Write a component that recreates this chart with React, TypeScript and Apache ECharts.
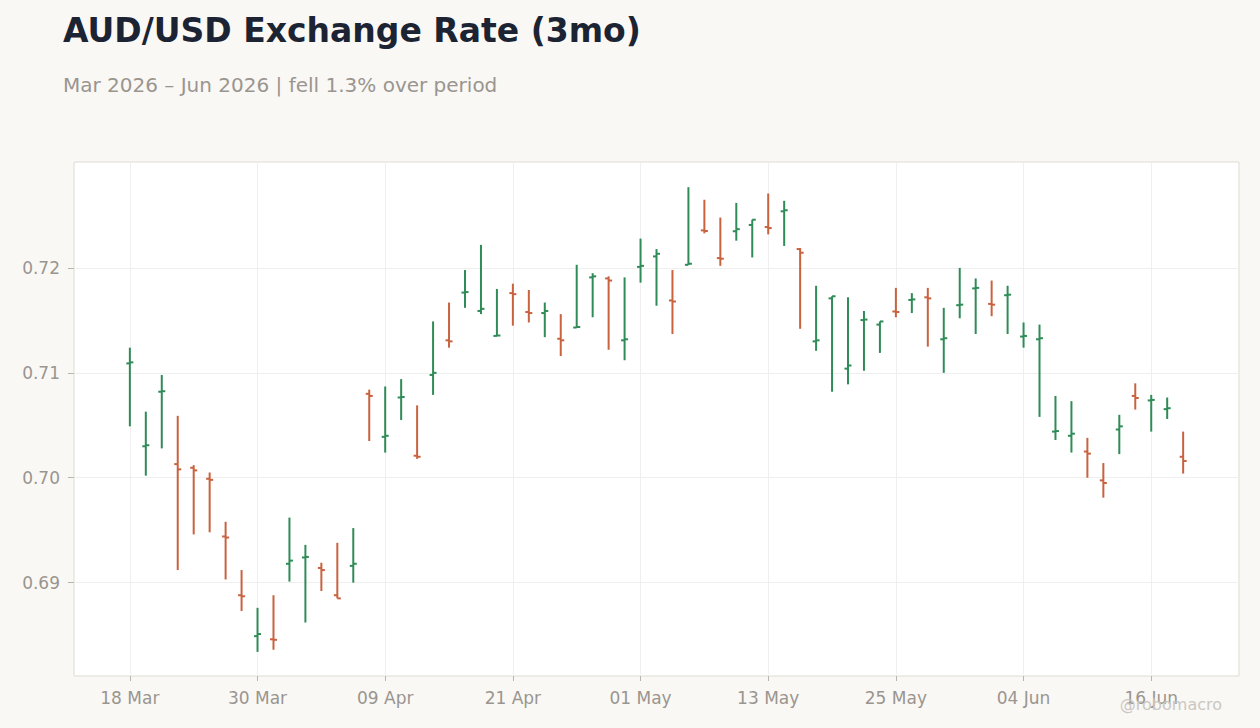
import * as echarts from 'echarts';
import React, { useEffect, useRef } from 'react';

// trading days shown on the category axis
const dates = [
  '18 Mar', '19 Mar', '20 Mar', '23 Mar', '24 Mar', '25 Mar', '26 Mar', '27 Mar', '30 Mar', '31 Mar',
  '01 Apr', '02 Apr', '03 Apr', '06 Apr', '07 Apr', '08 Apr', '09 Apr', '10 Apr', '13 Apr', '14 Apr',
  '15 Apr', '16 Apr', '17 Apr', '20 Apr', '21 Apr', '22 Apr', '23 Apr', '24 Apr', '27 Apr', '28 Apr',
  '29 Apr', '30 Apr', '01 May', '04 May', '05 May', '06 May', '07 May', '08 May', '11 May', '12 May',
  '13 May', '14 May', '15 May', '18 May', '19 May', '20 May', '21 May', '22 May', '25 May', '26 May',
  '27 May', '28 May', '29 May', '01 Jun', '02 Jun', '03 Jun', '04 Jun', '05 Jun', '08 Jun', '09 Jun',
  '10 Jun', '11 Jun', '12 Jun', '15 Jun', '16 Jun', '17 Jun', '18 Jun',
];

const opens = [
  0.7109, 0.7030, 0.7082, 0.7013, 0.70095, 0.6999, 0.6944, 0.6888, 0.6849, 0.6846,
  0.6918, 0.6924, 0.6914, 0.6888, 0.6916, 0.7080, 0.7039, 0.70765, 0.7021, 0.7098,
  0.7131, 0.71765, 0.7159, 0.71352, 0.7176, 0.7158, 0.7157, 0.71325, 0.71432, 0.7191,
  0.7190, 0.7131, 0.7201, 0.7211, 0.7169, 0.7203, 0.72358, 0.72094, 0.7235, 0.7241,
  0.7239, 0.7254, 0.7218, 0.7130, 0.7171, 0.7104, 0.71503, 0.7146, 0.71585, 0.71695,
  0.7172, 0.7132, 0.71645, 0.71805, 0.71657, 0.7174, 0.71346, 0.7132, 0.7044, 0.7040,
  0.7025, 0.69975, 0.7046, 0.7078, 0.70737, 0.70654, 0.7020,
];

const highs = [
  0.7124, 0.7063, 0.7098, 0.7059, 0.7012, 0.7005, 0.6958, 0.6912, 0.6876, 0.6888,
  0.6962, 0.6936, 0.6919, 0.6938, 0.6952, 0.7084, 0.7087, 0.7094, 0.7069, 0.7149,
  0.7167, 0.7198, 0.7222, 0.7180, 0.7185, 0.7179, 0.7167, 0.7156, 0.7203, 0.7195,
  0.7192, 0.7191, 0.7228, 0.7218, 0.7198, 0.7277, 0.7265, 0.7248, 0.7262, 0.7246,
  0.7271, 0.7264, 0.7219, 0.7183, 0.7173, 0.7172, 0.7159, 0.7149, 0.7181, 0.7176,
  0.7181, 0.7162, 0.7200, 0.7190, 0.7188, 0.7183, 0.7148, 0.7146, 0.7078, 0.7073,
  0.7038, 0.7014, 0.7060, 0.7090, 0.7079, 0.70765, 0.7044,
];

const lows = [
  0.7049, 0.7002, 0.7028, 0.6912, 0.6946, 0.6948, 0.6903, 0.6873, 0.6834, 0.6836,
  0.6901, 0.6862, 0.6892, 0.6885, 0.6900, 0.7035, 0.7024, 0.7055, 0.7018, 0.7079,
  0.7124, 0.7162, 0.7156, 0.7135, 0.7145, 0.7148, 0.7134, 0.7116, 0.7143, 0.7153,
  0.7122, 0.7112, 0.7186, 0.7164, 0.7137, 0.7203, 0.7233, 0.7202, 0.7226, 0.7210,
  0.7232, 0.7221, 0.7142, 0.7121, 0.7082, 0.7089, 0.7102, 0.7119, 0.7153, 0.7157,
  0.7125, 0.7100, 0.7152, 0.7137, 0.7154, 0.7137, 0.7124, 0.7058, 0.7036, 0.7024,
  0.7000, 0.6981, 0.70225, 0.7065, 0.7044, 0.7056, 0.7004,
];

const closes = [
  0.7110, 0.7031, 0.70825, 0.7008, 0.7007, 0.6998, 0.6943, 0.6887, 0.6851, 0.68455,
  0.6921, 0.69245, 0.6912, 0.6885, 0.6918, 0.7078, 0.7040, 0.7077, 0.7020, 0.7100,
  0.7130, 0.7177, 0.7161, 0.71356, 0.7175, 0.7157, 0.7159, 0.7131, 0.71437, 0.7192,
  0.7188, 0.7132, 0.7202, 0.72135, 0.7168, 0.7204, 0.72352, 0.72088, 0.7237, 0.7246,
  0.7238, 0.7255, 0.72145, 0.7131, 0.7173, 0.7107, 0.71508, 0.7149, 0.7158, 0.7170,
  0.7171, 0.7133, 0.7165, 0.7181, 0.7165, 0.71745, 0.71352, 0.7133, 0.70445, 0.7042,
  0.7023, 0.6995, 0.7049, 0.7076, 0.70742, 0.70663, 0.7016,
];

const yTicks = [0.69, 0.7, 0.71, 0.72];

// empty categories either side, so the first and last bars sit in from the frame
const PAD = 3;
const UP = '#2f8b57';
const DOWN = '#c9623f';
const GREY = '#9a958f';

const App: React.FC = () => {
  const chartRef = useRef<HTMLDivElement>(null);

  useEffect(() => {
    if (!chartRef.current) return;
    const chart = echarts.init(chartRef.current, null, { renderer: 'svg' });

    const pad = new Array(PAD).fill('');
    const categories = [...pad, ...dates, ...pad];
    const showAt = (index: number, value: string) => value !== '' && (index - PAD) % 8 === 0;

    const ohlc = dates.map((_, i) => [i + PAD, opens[i], highs[i], lows[i], closes[i]]);

    chart.setOption({
      animation: false,
      backgroundColor: '#f9f8f5',
      textStyle: { fontFamily: 'DejaVu Sans' },
      title: [
        {
          text: 'AUD/USD Exchange Rate (3mo)',
          left: 63,
          top: 10,
          padding: 0,
          textStyle: { fontSize: 33, fontWeight: 'bold', color: '#1c2434', lineHeight: 40 },
        },
        {
          text: 'Mar 2026 – Jun 2026 | fell 1.3% over period',
          left: 63,
          top: 73,
          padding: 0,
          textStyle: { fontSize: 20, fontWeight: 'normal', color: GREY, lineHeight: 24 },
        },
        {
          text: '@robomacro',
          right: 38,
          top: 694,
          padding: 0,
          textStyle: { fontSize: 16, fontWeight: 'normal', color: '#cbc7c2', lineHeight: 20 },
        },
      ],
      grid: {
        left: 74,
        right: 21,
        top: 162,
        bottom: 52,
        show: true,
        backgroundColor: '#ffffff',
        borderColor: '#e0dbd3',
        borderWidth: 1,
      },
      xAxis: {
        type: 'category',
        data: categories,
        boundaryGap: true,
        axisLine: { show: false },
        axisTick: {
          show: true,
          alignWithLabel: true,
          interval: showAt,
          length: 5,
          lineStyle: { color: '#b9b4ad' },
        },
        axisLabel: { interval: showAt, color: GREY, fontSize: 17, margin: 12, lineHeight: 20 },
        splitLine: {
          show: true,
          alignWithLabel: true,
          interval: showAt,
          lineStyle: { color: '#efefef', width: 1 },
        },
      },
      yAxis: {
        type: 'value',
        min: 0.6811,
        max: 0.7301,
        axisLine: { show: false },
        axisTick: { show: true, length: 6, customValues: yTicks, lineStyle: { color: '#b9b4ad' } },
        axisLabel: {
          customValues: yTicks,
          color: GREY,
          fontSize: 17,
          margin: 14,
          formatter: (v: number) => v.toFixed(2),
        },
        splitLine: { show: true, lineStyle: { color: '#efefef', width: 1 } },
      },
      series: [
        {
          type: 'custom',
          data: ohlc,
          encode: { x: 0, y: [1, 2, 3, 4] },
          renderItem: (params: any, api: any) => {
            const x = api.value(0);
            const o = api.coord([x, api.value(1)]);
            const h = api.coord([x, api.value(2)]);
            const l = api.coord([x, api.value(3)]);
            const c = api.coord([x, api.value(4)]);
            const color = api.value(4) >= api.value(1) ? UP : DOWN;
            const style = { stroke: color, lineWidth: 2 };
            const arm = 3.5;
            return {
              type: 'group',
              children: [
                { type: 'line', shape: { x1: h[0], y1: h[1], x2: l[0], y2: l[1] }, style },
                { type: 'line', shape: { x1: o[0] - arm, y1: o[1], x2: o[0], y2: o[1] }, style },
                { type: 'line', shape: { x1: c[0], y1: c[1], x2: c[0] + arm, y2: c[1] }, style },
              ],
            };
          },
        },
      ],
    });

    return () => {
      chart.dispose();
    };
  }, []);

  return (
    <div
      ref={chartRef}
      style={{ position: 'fixed', left: 0, top: 0, width: 1260, height: 728 }}
    />
  );
};

export default App;
